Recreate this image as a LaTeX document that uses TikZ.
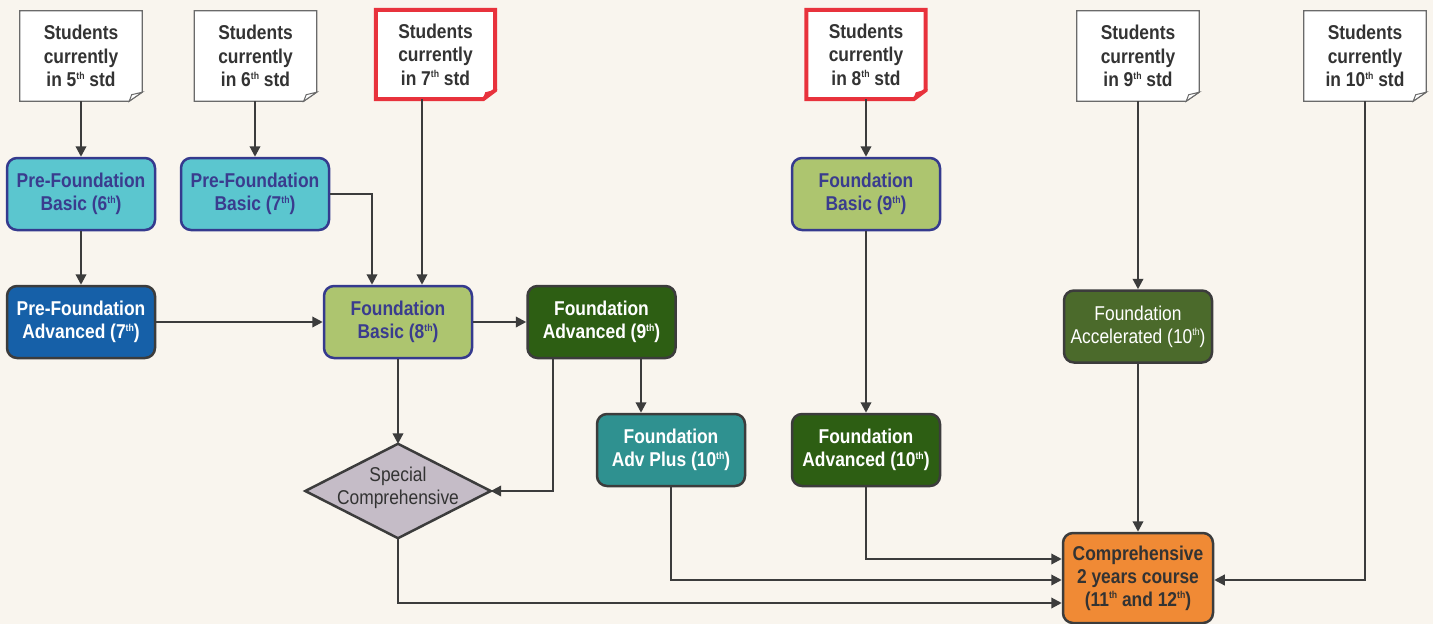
\documentclass[tikz,border=0pt]{standalone}
\usepackage{fontspec}
\setmainfont{Liberation Sans}[FakeStretch=0.87]
\usetikzlibrary{arrows.meta}
\definecolor{bgc}{HTML}{F9F5EE}
\definecolor{lc}{HTML}{3C3C3C}
\definecolor{txt}{HTML}{333333}
\definecolor{docgray}{HTML}{6A6A6A}
\definecolor{redc}{HTML}{E8323C}
\definecolor{cyanf}{HTML}{5BC6CF}
\definecolor{blueb}{HTML}{353A8E}
\definecolor{bluet}{HTML}{3A3C8E}
\definecolor{lgreen}{HTML}{ADC56F}
\definecolor{dblue}{HTML}{1660A8}
\definecolor{dgreen}{HTML}{2D5E13}
\definecolor{olive}{HTML}{4B6A2B}
\definecolor{teal}{HTML}{2F9190}
\definecolor{orng}{HTML}{F08A35}
\definecolor{diam}{HTML}{C5BCC7}
\newcommand\sth{\raisebox{7.5pt}{\fontsize{10}{10}\selectfont th}}
\pgfdeclarelayer{back}
\pgfdeclarelayer{bg}
\pgfsetlayers{back,bg,main}
\begin{document}
\begin{tikzpicture}[x=1pt,y=-1pt,
  docbox/.style={minimum width=122pt, minimum height=90pt, inner sep=0pt, align=center,
    text=txt, font=\fontsize{20}{23.5}\selectfont\bfseries},
  reddoc/.style={docbox, minimum width=119pt, minimum height=89pt},
  box/.style={draw, rounded corners=10pt, minimum width=148pt, minimum height=72pt,
    inner sep=0pt, line width=2.5pt, align=center, font=\fontsize{20}{23}\selectfont\bfseries},
  bluebox/.style={box, draw=blueb, text=bluet},
  darkbox/.style={box, draw=lc, text=white},
  arr/.style={line width=2.2pt, draw=lc, -{Triangle[length=10.5pt,width=10.5pt]}}
]
\useasboundingbox (0,0) rectangle (1433,624);
\begin{pgfonlayer}{back}
\fill[bgc] (0,0) rectangle (1433,624);
\end{pgfonlayer}

% documents
\node[docbox] (d1) at (81,56) {Students\\currently\\in 5\sth{} std};
\node[docbox] (d2) at (255.5,56) {Students\\currently\\in 6\sth{} std};
\node[reddoc] (d3) at (435.5,54.5) {Students\\currently\\in 7\sth{} std};
\node[reddoc] (d4) at (866,54.5) {Students\\currently\\in 8\sth{} std};
\node[docbox] (d5) at (1138,56) {Students\\currently\\in 9\sth{} std};
\node[docbox] (d6) at (1365,56) {Students\\currently\\in 10\sth{} std};

% boxes
\node[bluebox, fill=cyanf] (pfb6) at (81,194) {Pre-Foundation\\Basic (6\sth)};
\node[bluebox, fill=cyanf] (pfb7) at (255,194) {Pre-Foundation\\Basic (7\sth)};
\node[bluebox, fill=lgreen] (fb9) at (866,194) {Foundation\\Basic (9\sth)};
\node[darkbox, fill=dblue] (pfa7) at (81,322) {Pre-Foundation\\Advanced (7\sth)};
\node[bluebox, fill=lgreen] (fb8) at (398,322) {Foundation\\Basic (8\sth)};
\node[darkbox, fill=dgreen] (fa9) at (601.5,322) {Foundation\\Advanced (9\sth)};
\node[darkbox, fill=olive, font=\fontsize{20}{23}\selectfont\mdseries] (facc) at (1138,326.5) {Foundation\\Accelerated (10\sth)};
\node[darkbox, fill=teal] (fap10) at (671,450) {Foundation\\Adv Plus (10\sth)};
\node[darkbox, fill=dgreen] (fa10) at (866,450) {Foundation\\Advanced (10\sth)};
\node[box, draw=lc, fill=orng, text=txt, minimum width=150pt, minimum height=90pt] (comp) at (1138,578) {Comprehensive\\2 years course\\(11\sth{} and 12\sth)};
\node[minimum width=185pt, minimum height=94pt, inner sep=0pt, align=center, text=txt,
  font=\fontsize{20}{23}\selectfont] (sc) at (398,491) {Special\\Comprehensive\\[-13pt]\mbox{}};

% shapes drawn behind texts
\begin{pgfonlayer}{bg}
\foreach \n in {d1,d2,d5,d6}{
  \filldraw[fill=white, draw=docgray, line width=1.2pt, line join=miter]
    (\n.north west) -- (\n.north east) -- ([yshift=9pt]\n.south east)
    -- ([xshift=-13pt]\n.south east) -- (\n.south west) -- cycle;
  \filldraw[fill=white, draw=docgray, line width=1pt]
    ([yshift=9pt]\n.south east) -- ([xshift=-13pt]\n.south east)
    -- ([xshift=-10.5pt,yshift=6.5pt]\n.south east) -- cycle;
}
\foreach \n in {d3,d4}{
  \filldraw[fill=white, draw=redc, line width=4pt, line join=miter]
    (\n.north west) -- (\n.north east) -- ([yshift=9pt]\n.south east)
    -- ([xshift=-12pt]\n.south east) -- (\n.south west) -- cycle;
  \filldraw[fill=redc, draw=redc, line width=1pt]
    ([yshift=9pt]\n.south east) -- ([xshift=-12pt]\n.south east)
    -- ([xshift=-9.5pt,yshift=6.5pt]\n.south east) -- cycle;
}
\filldraw[fill=diam, draw=lc, line width=2.5pt]
  (sc.north) -- (sc.east) -- (sc.south) -- (sc.west) -- cycle;
\end{pgfonlayer}

% helper coordinates
\coordinate (c372) at (372,0);
\coordinate (c422) at (422,0);
\coordinate (c553) at (553,0);
\coordinate (c641) at (641,0);
\coordinate (c559) at (0,559);
\coordinate (c580) at (0,580);
\coordinate (c603) at (0,603);

% connectors
\draw[arr] (d1) -- (pfb6);
\draw[arr] (d2.south -| pfb7.north) -- (pfb7.north);
\draw[arr] (pfb6) -- (pfa7);
\draw[arr] (pfb7.east) -| (fb8.north -| c372);
\draw[arr] (d3.south -| c422) -- (fb8.north -| c422);
\draw[arr] (pfa7) -- (fb8);
\draw[arr] (fb8) -- (fa9);
\draw[arr] (fa9.south -| c641) -- (fap10.north -| c641);
\draw[arr] (fa9.south -| c553) |- (sc.east);
\draw[arr] (fb8) -- (sc.north);
\draw[arr] (sc.south) |- (comp.west |- c603);
\draw[arr] (fap10.south) |- (comp.west |- c580);
\draw[arr] (fa10.south) |- (comp.west |- c559);
\draw[arr] (d4) -- (fb9);
\draw[arr] (fb9) -- (fa10);
\draw[arr] (d5) -- (facc);
\draw[arr] (facc) -- (comp);
\draw[arr] (d6.south) |- (comp.east |- c580);
\end{tikzpicture}
\end{document}
